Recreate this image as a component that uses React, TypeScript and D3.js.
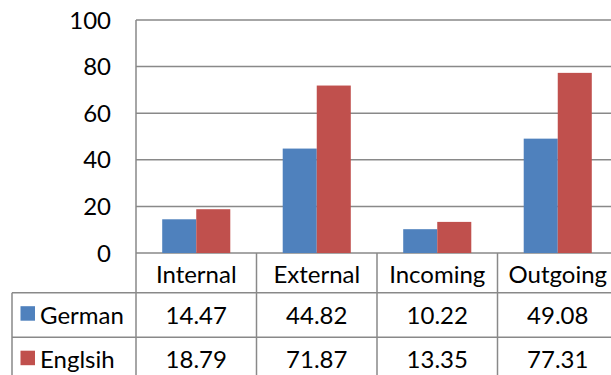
import * as d3 from 'd3'

const categories = ['Internal', 'External', 'Incoming', 'Outgoing']
const seriesNames = ['German', 'Englsih']
const german = [14.47, 44.82, 10.22, 49.08]
const english = [18.79, 71.87, 13.35, 77.31]
const yTicks = [0, 20, 40, 60, 80, 100]

const colors = ['#4F81BD', '#C0504D']
const gridColor = '#898989'
const font = 'Lato, "Open Sans", sans-serif'

export default function App() {
  const width = 611
  const height = 375
  const left = 136
  const top = 20
  const zeroY = 253
  const catWidth = 120.5
  const headerBottom = 292.7
  const rowH = 44.5
  const tableLeft = 12

  const values = [german, english]

  const x0 = d3.scaleBand<string>()
    .domain(categories)
    .range([left, left + catWidth * categories.length])
  const x1 = d3.scaleBand<string>()
    .domain(seriesNames)
    .range([0, x0.bandwidth()])
    .paddingOuter(0.77)
  const y = d3.scaleLinear().domain([0, 100]).range([zeroY, top])

  const rowTop = (i: number) => headerBottom + i * rowH

  return (
    <svg
      width={width}
      height={height}
      style={{ position: 'absolute', left: 0, top: 0, background: '#fff' }}
      fontFamily={font}
    >
      {/* gridlines */}
      {yTicks.map(t => (
        <line key={t} x1={left} x2={width} y1={y(t)} y2={y(t)} stroke={gridColor} strokeWidth={1.5} />
      ))}
      {yTicks.map(t => (
        <text key={'l' + t} x={111} y={y(t) + 8.5} textAnchor="end" fontSize={24} fill="#000">{t}</text>
      ))}

      {/* bars */}
      {values.map((vals, si) =>
        vals.map((v, ci) => (
          <rect
            key={si + '-' + ci}
            x={(x0(categories[ci]) ?? 0) + (x1(seriesNames[si]) ?? 0)}
            y={y(v)}
            width={x1.bandwidth()}
            height={zeroY - y(v)}
            fill={colors[si]}
          />
        ))
      )}

      {/* axis line */}
      <line x1={left} x2={left} y1={top} y2={height} stroke={gridColor} strokeWidth={1.5} />

      {/* data table */}
      {categories.map((c, ci) => (
        <g key={c}>
          <line
            x1={(x0(c) ?? 0) + x0.bandwidth()}
            x2={(x0(c) ?? 0) + x0.bandwidth()}
            y1={zeroY}
            y2={height}
            stroke={gridColor}
            strokeWidth={1.5}
          />
          <text x={(x0(c) ?? 0) + x0.bandwidth() / 2} y={283} textAnchor="middle" fontSize={24} fill="#000">{c}</text>
          {values.map((vals, si) => (
            <text
              key={si}
              x={(x0(c) ?? 0) + x0.bandwidth() / 2}
              y={rowTop(si) + 30.8}
              textAnchor="middle"
              fontSize={24}
              fill="#000"
            >
              {vals[ci].toFixed(2)}
            </text>
          ))}
        </g>
      ))}
      {seriesNames.map((s, si) => (
        <g key={s}>
          <line x1={tableLeft} x2={width} y1={rowTop(si)} y2={rowTop(si)} stroke={gridColor} strokeWidth={1.5} />
          <rect x={20.5} y={rowTop(si) + 13.5} width={14.5} height={14.5} fill={colors[si]} />
          <text x={40} y={rowTop(si) + 30.8} fontSize={24} fill="#000">{s}</text>
        </g>
      ))}
      <line x1={tableLeft} x2={tableLeft} y1={headerBottom} y2={height} stroke={gridColor} strokeWidth={1.5} />
    </svg>
  )
}
